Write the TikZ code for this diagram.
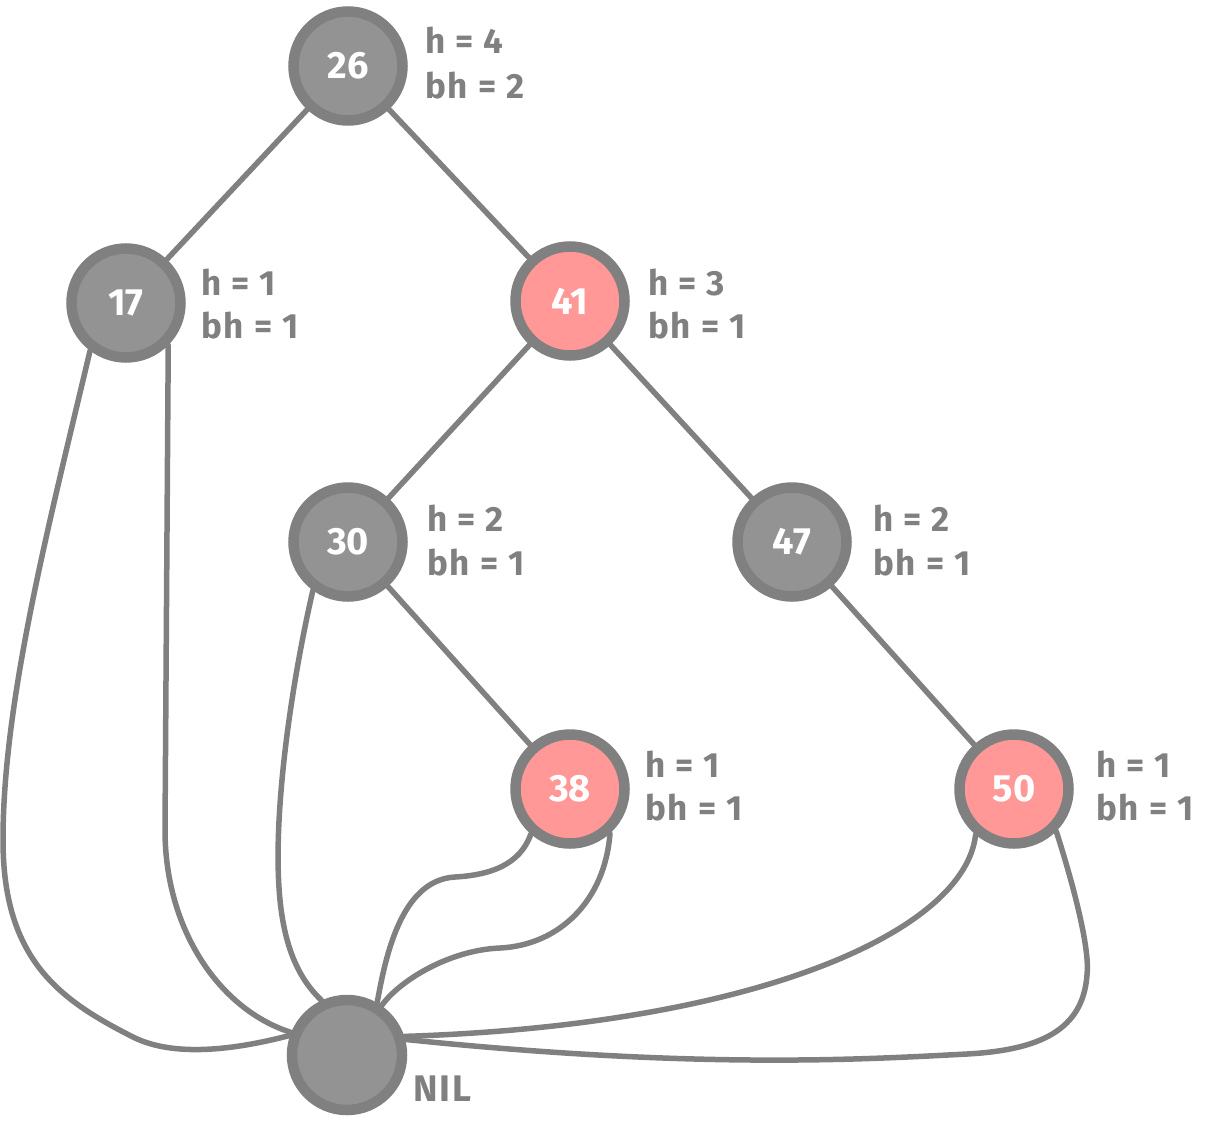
\documentclass[tikz,border=0pt]{standalone}
\usepackage{fontspec}
\setmainfont{Fira Sans}
\usetikzlibrary{backgrounds}
\definecolor{edgegray}{HTML}{808080}
\definecolor{fillgray}{HTML}{939393}
\definecolor{fillred}{HTML}{FF9896}
\begin{document}
\begin{tikzpicture}[x=1pt,y=-1pt,
  bnode/.style={circle, draw=edgegray, line width=10.5pt, fill=fillgray,
    minimum size=109pt, inner sep=0pt, text=white,
    font=\fontsize{38}{38}\selectfont\bfseries},
  rnode/.style={bnode, fill=fillred},
  nilnode/.style={bnode, minimum size=110pt},
  ln/.style={draw=edgegray, line width=5.5pt, line cap=round, line join=round},
  lbl/.style={text=edgegray, font=\fontsize{35}{40}\selectfont\bfseries\addfontfeatures{LetterSpace=5}, anchor=base west, inner sep=0pt}]
\useasboundingbox (0,0) rectangle (1220,1135);

% nodes
\node[bnode] (n26) at (348,66) {26};
\node[bnode] (n17) at (126,303) {17};
\node[rnode] (n41) at (570,301) {41};
\node[bnode] (n30) at (348,542) {30};
\node[bnode] (n47) at (792,542) {47};
\node[rnode] (n38) at (570,789) {38};
\node[rnode] (n50) at (1014,789) {50};
\node[nilnode] (nil) at (347,1055) {};

% labels
\node[lbl] (l26a) at (425,53) {h = 4};
\node[lbl] (l26b) at (425,98) {bh = 2};
\node[lbl] (l17a) at (201,295) {h = 1};
\node[lbl] (l17b) at (201,338) {bh = 1};
\node[lbl] (l41a) at (648,295) {h = 3};
\node[lbl] (l41b) at (648,338) {bh = 1};
\node[lbl] (l30a) at (427,531) {h = 2};
\node[lbl] (l30b) at (427,575) {bh = 1};
\node[lbl] (l47a) at (873,531) {h = 2};
\node[lbl] (l47b) at (873,575) {bh = 1};
\node[lbl] (l38a) at (645,777) {h = 1};
\node[lbl] (l38b) at (645,820) {bh = 1};
\node[lbl] (l50a) at (1096,777) {h = 1};
\node[lbl] (l50b) at (1096,820) {bh = 1};
\node[lbl, font=\fontsize{37}{40}\selectfont\bfseries\addfontfeatures{LetterSpace=5}] (lnil) at (413,1101) {NIL};

\begin{scope}[on background layer]
  % tree edges
  \draw[ln] (n26) -- (n17);
  \draw[ln] (n26) -- (n41);
  \draw[ln] (n41) -- (n30);
  \draw[ln] (n41) -- (n47);
  \draw[ln] (n30) -- (n38);
  \draw[ln] (n47) -- (n50);
  % edges to NIL
  \draw[ln] (n17.233) .. controls (50,520) and (3,700) .. (3,840)
        .. controls (3,960) and (60,1000) .. (133,1037)
        .. controls (165,1053) and (215,1055) .. (nil.161);
  \draw[ln] (n17.315) -- (165,830)
        .. controls (165,930) and (220,1010) .. (nil.158);
  \draw[ln] (n30.234) .. controls (290,690) and (272,820) .. (280,900)
        .. controls (285,950) and (300,980) .. (nil.115);
  \draw[ln] (n38.229) .. controls (520,865) and (490,875) .. (455,877)
        .. controls (400,880) and (385,960) .. (nil.60);
  \draw[ln] (n38.312) .. controls (605,900) and (560,945) .. (500,948)
        .. controls (450,950) and (400,980) .. (nil.55);
  \draw[ln] (n50.230) .. controls (965,930) and (760,1025) .. (nil.18);
  \draw[ln] (n50.315) .. controls (1075,890) and (1090,950) .. (1087,975)
        .. controls (1083,1030) and (1040,1050) .. (967,1054)
        .. controls (870,1059) and (700,1070) .. (nil.15);
\end{scope}
\end{tikzpicture}
\end{document}
